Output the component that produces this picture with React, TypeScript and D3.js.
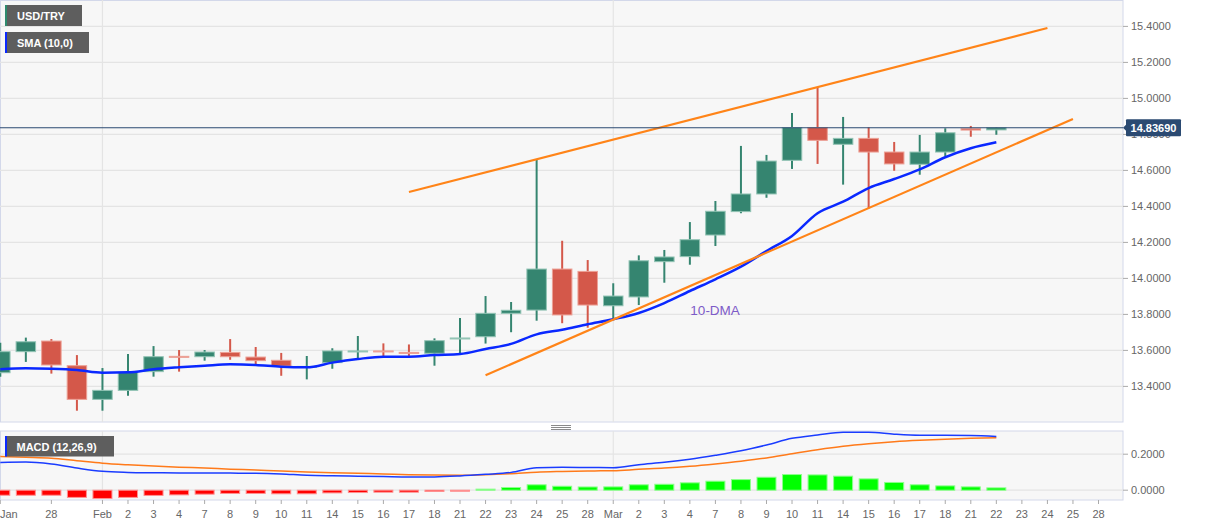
import React from 'react';
import * as d3 from 'd3';

const W = 1207;
const H = 526;

const dateLabels = ["Jan","","28","","Feb","2","3","4","7","8","9","10","11","14","15","16","17","18","21","22","23","24","25","28","Mar","2","3","4","7","8","9","10","11","14","15","16","17","18","21","22","23","24","25","28"];

const open = [13.476,13.593,13.652,13.515,13.328,13.378,13.482,13.567,13.565,13.589,13.563,13.545,13.507,13.532,13.594,13.597,13.589,13.584,13.664,13.676,13.806,13.824,14.052,14.039,13.848,13.897,14.093,14.121,14.241,14.371,14.469,14.656,14.838,14.745,14.778,14.702,14.634,14.702,14.832,14.825];
const high = [13.643,13.671,13.663,13.574,13.502,13.580,13.624,13.602,13.602,13.663,13.619,13.586,13.569,13.612,13.680,13.639,13.633,13.667,13.780,13.902,13.869,14.658,14.209,14.102,13.973,14.128,14.158,14.313,14.430,14.736,14.686,14.919,15.061,14.897,14.839,14.758,14.797,14.834,14.847,14.840];
const low = [13.454,13.536,13.471,13.265,13.265,13.348,13.454,13.482,13.543,13.548,13.521,13.459,13.439,13.498,13.556,13.569,13.567,13.515,13.580,13.638,13.701,13.765,13.751,13.726,13.769,13.852,13.976,14.076,14.180,14.362,14.448,14.608,14.636,14.521,14.389,14.598,14.576,14.678,14.787,14.798];
const close = [13.593,13.648,13.519,13.328,13.378,13.478,13.565,13.563,13.591,13.565,13.543,13.513,13.511,13.597,13.597,13.594,13.585,13.654,13.669,13.806,13.823,14.052,13.797,13.852,13.902,14.098,14.119,14.215,14.373,14.469,14.652,14.838,14.767,14.778,14.702,14.636,14.702,14.809,14.824,14.8369];
const sma10 = [13.495,13.501,13.498,13.491,13.476,13.478,13.495,13.506,13.515,13.523,13.519,13.509,13.506,13.532,13.552,13.565,13.565,13.574,13.580,13.608,13.636,13.689,13.715,13.745,13.773,13.808,13.863,13.930,13.995,14.065,14.152,14.236,14.362,14.426,14.502,14.552,14.606,14.673,14.723,14.756];

const macdLine = [0.154,0.156,0.145,0.123,0.105,0.099,0.097,0.096,0.096,0.095,0.094,0.090,0.083,0.080,0.078,0.076,0.074,0.074,0.079,0.088,0.099,0.125,0.127,0.126,0.125,0.142,0.155,0.172,0.194,0.219,0.251,0.288,0.307,0.322,0.322,0.311,0.305,0.305,0.304,0.299];
const signalLine = [0.187,0.183,0.178,0.164,0.150,0.141,0.134,0.128,0.123,0.117,0.112,0.106,0.101,0.097,0.094,0.090,0.086,0.084,0.083,0.086,0.092,0.100,0.104,0.107,0.108,0.116,0.123,0.133,0.146,0.161,0.179,0.203,0.225,0.244,0.258,0.269,0.277,0.283,0.288,0.292];
const histogram = [-0.028,-0.028,-0.028,-0.040,-0.046,-0.040,-0.029,-0.026,-0.022,-0.018,-0.018,-0.020,-0.020,-0.015,-0.013,-0.011,-0.011,-0.007,-0.004,0.006,0.015,0.030,0.022,0.018,0.0185,0.030,0.033,0.041,0.050,0.059,0.072,0.087,0.085,0.078,0.063,0.043,0.030,0.024,0.0185,0.013];

const priceTicks = [13.4,13.6,13.8,14.0,14.2,14.4,14.6,14.8,15.0,15.2,15.4];
const macdTicks = [0.0, 0.2];
const lastPrice = 14.8369;
const monthStarts = [4, 24];

// trend lines: [index, value]
const upperTrend = [[16, 14.480], [41, 15.391]];
const lowerTrend = [[19, 13.4617], [42, 14.886]];
const dmaLabel = { i: 27, v: 13.83, text: "10-DMA" };

const FONT = "'Liberation Sans', Arial, Helvetica, sans-serif";
const GREEN = "#358570";
const GREEN_EDGE = "#93c4b5";
const RED = "#d4584a";
const RED_EDGE = "#eca196";

export default function App() {
  const plotRight = 1123;
  const mainTop = 0.5, mainBottom = 422;
  const macdTop = 431, macdBottom = 500;

  const x = d3.scaleLinear().domain([0, 43]).range([0.3, 1098.5]);
  const y = d3.scaleLinear().domain([13.4, 15.4]).range([386.4, 26.4]);
  const ym = d3.scaleLinear().domain([0, 0.2]).range([490.2, 454.2]);

  const idx = d3.range(open.length);
  const smaPath = d3.line<number>().x(i => x(i)).y(i => y(sma10[i])).curve(d3.curveMonotoneX)(idx) || "";
  const macdPath = d3.line<number>().x(i => x(i)).y(i => ym(macdLine[i])).curve(d3.curveMonotoneX)(idx) || "";
  const sigPath = d3.line<number>().x(i => x(i)).y(i => ym(signalLine[i])).curve(d3.curveMonotoneX)(idx) || "";

  const bw = 19.5;

  return (
    <svg width={W} height={H} style={{ position: 'absolute', left: 0, top: 0, background: '#fff' }} fontFamily={FONT}>
      <defs>
        <clipPath id="mainClip"><rect x={0} y={0} width={plotRight} height={mainBottom} /></clipPath>
        <clipPath id="macdClip"><rect x={0} y={macdTop} width={plotRight} height={macdBottom - macdTop} /></clipPath>
      </defs>

      {/* main panel */}
      <rect x={0.5} y={mainTop} width={plotRight - 0.5} height={mainBottom - mainTop} fill="#f7f7f7" stroke="#d3d8ea" strokeWidth={1} />
      <g clipPath="url(#mainClip)">
        {priceTicks.map(t => (
          <line key={t} x1={0} x2={plotRight} y1={y(t)} y2={y(t)} stroke="#e4e4e4" strokeWidth={1.2} />
        ))}
        {monthStarts.map(m => (
          <line key={m} x1={x(m)} x2={x(m)} y1={0} y2={mainBottom} stroke="#e4e4e4" strokeWidth={1.2} />
        ))}
        {idx.map(i => {
          const up = close[i] >= open[i];
          const col = up ? GREEN : RED;
          const edge = up ? GREEN_EDGE : RED_EDGE;
          const top = y(Math.max(open[i], close[i]));
          const bot = y(Math.min(open[i], close[i]));
          const h = Math.max(1, bot - top);
          return (
            <g key={i}>
              <line x1={x(i)} x2={x(i)} y1={y(high[i])} y2={y(low[i])} stroke={col} strokeWidth={2} />
              <rect x={x(i) - bw / 2} y={top} width={bw} height={h} fill={col} stroke={edge} strokeWidth={1} />
            </g>
          );
        })}
        <path d={smaPath} fill="none" stroke="#0a28ff" strokeWidth={2.5} />
        <line x1={x(upperTrend[0][0])} y1={y(upperTrend[0][1])} x2={x(upperTrend[1][0])} y2={y(upperTrend[1][1])} stroke="#ff8418" strokeWidth={2.2} />
        <line x1={x(lowerTrend[0][0])} y1={y(lowerTrend[0][1])} x2={x(lowerTrend[1][0])} y2={y(lowerTrend[1][1])} stroke="#ff8418" strokeWidth={2.2} />
        <line x1={0} x2={plotRight} y1={y(lastPrice)} y2={y(lastPrice)} stroke="#2b4a72" strokeWidth={1} />
        <text x={x(dmaLabel.i) + 0.5} y={y(dmaLabel.v) + 6} fontSize={13.5} fill="#7d5bc8">{dmaLabel.text}</text>
      </g>

      {/* legend boxes */}
      <g>
        <rect x={5} y={5} width={77} height={21} fill="#5e5e5e" />
        <rect x={5} y={5} width={2} height={21} fill="#2e8a6e" />
        <text x={17} y={19.5} fontSize={11} fontWeight="bold" fill="#fff">USD/TRY</text>
        <rect x={5} y={32} width={84} height={21} fill="#5e5e5e" />
        <rect x={5} y={32} width={2} height={21} fill="#0a28ff" />
        <text x={17} y={46.5} fontSize={11} fontWeight="bold" fill="#fff">SMA (10,0)</text>
      </g>

      {/* right axis main */}
      {priceTicks.map(t => (
        <g key={t}>
          <line x1={plotRight} x2={plotRight + 5} y1={y(t)} y2={y(t)} stroke="#aaa" />
          <text x={plotRight + 8} y={y(t) + 4} fontSize={11} fill="#666">{t.toFixed(4)}</text>
        </g>
      ))}
      <path d={`M${plotRight},${y(lastPrice)} L${plotRight + 4},${y(lastPrice) - 4} L${plotRight + 4},${y(lastPrice) + 4} Z`} fill="#2b4a72" />
      <rect x={plotRight + 3} y={y(lastPrice) - 8.5} width={55} height={17} fill="#2b4a72" rx={1} />
      <text x={plotRight + 30.5} y={y(lastPrice) + 4} fontSize={11} fontWeight="bold" fill="#fff" textAnchor="middle">{lastPrice.toFixed(5)}</text>

      {/* separator handle */}
      {[425.5, 427.5, 429.5].map(v => (
        <line key={v} x1={551} x2={571} y1={v} y2={v} stroke="#8a8a8a" strokeWidth={1} />
      ))}

      {/* MACD panel */}
      <rect x={0.5} y={macdTop} width={plotRight - 0.5} height={macdBottom - macdTop} fill="#f7f7f7" stroke="#d3d8ea" strokeWidth={1} />
      <g clipPath="url(#macdClip)">
        {macdTicks.map(t => (
          <line key={t} x1={0} x2={plotRight} y1={ym(t)} y2={ym(t)} stroke="#e4e4e4" strokeWidth={1.2} />
        ))}
        {monthStarts.map(m => (
          <line key={m} x1={x(m)} x2={x(m)} y1={macdTop} y2={macdBottom} stroke="#e4e4e4" strokeWidth={1.2} />
        ))}
        {idx.map(i => {
          const v = histogram[i];
          const pos = v >= 0;
          const y0 = ym(0);
          const y1 = ym(v);
          return (
            <rect key={i} x={x(i) - 9.5} y={Math.min(y0, y1)} width={19} height={Math.max(1, Math.abs(y1 - y0))}
              fill={pos ? "#00ff00" : "#ff0000"} stroke={pos ? "#8cff8c" : "#ff9090"} strokeWidth={1} />
          );
        })}
        <path d={sigPath} fill="none" stroke="#ff7a1a" strokeWidth={1.5} />
        <path d={macdPath} fill="none" stroke="#1a3cff" strokeWidth={1.5} />
      </g>
      <rect x={5} y={436} width={109} height={20.5} fill="#5e5e5e" />
      <rect x={5} y={436} width={2} height={20.5} fill="#0a28ff" />
      <text x={16.5} y={450.5} fontSize={11} fontWeight="bold" fill="#fff">MACD (12,26,9)</text>

      {macdTicks.map(t => (
        <g key={t}>
          <line x1={plotRight} x2={plotRight + 5} y1={ym(t)} y2={ym(t)} stroke="#aaa" />
          <text x={plotRight + 8} y={ym(t) + 4} fontSize={11} fill="#666">{t.toFixed(4)}</text>
        </g>
      ))}

      {/* x axis */}
      {dateLabels.map((lab, i) => {
        if (!lab) return null;
        const px = x(i);
        const startAnchor = px < 10;
        return (
          <g key={i}>
            <line x1={px} x2={px} y1={macdBottom} y2={macdBottom + 4} stroke="#aaa" />
            <text x={startAnchor ? 0 : px} y={518} fontSize={11} fill="#666" textAnchor={startAnchor ? "start" : "middle"}>{lab}</text>
          </g>
        );
      })}
    </svg>
  );
}
